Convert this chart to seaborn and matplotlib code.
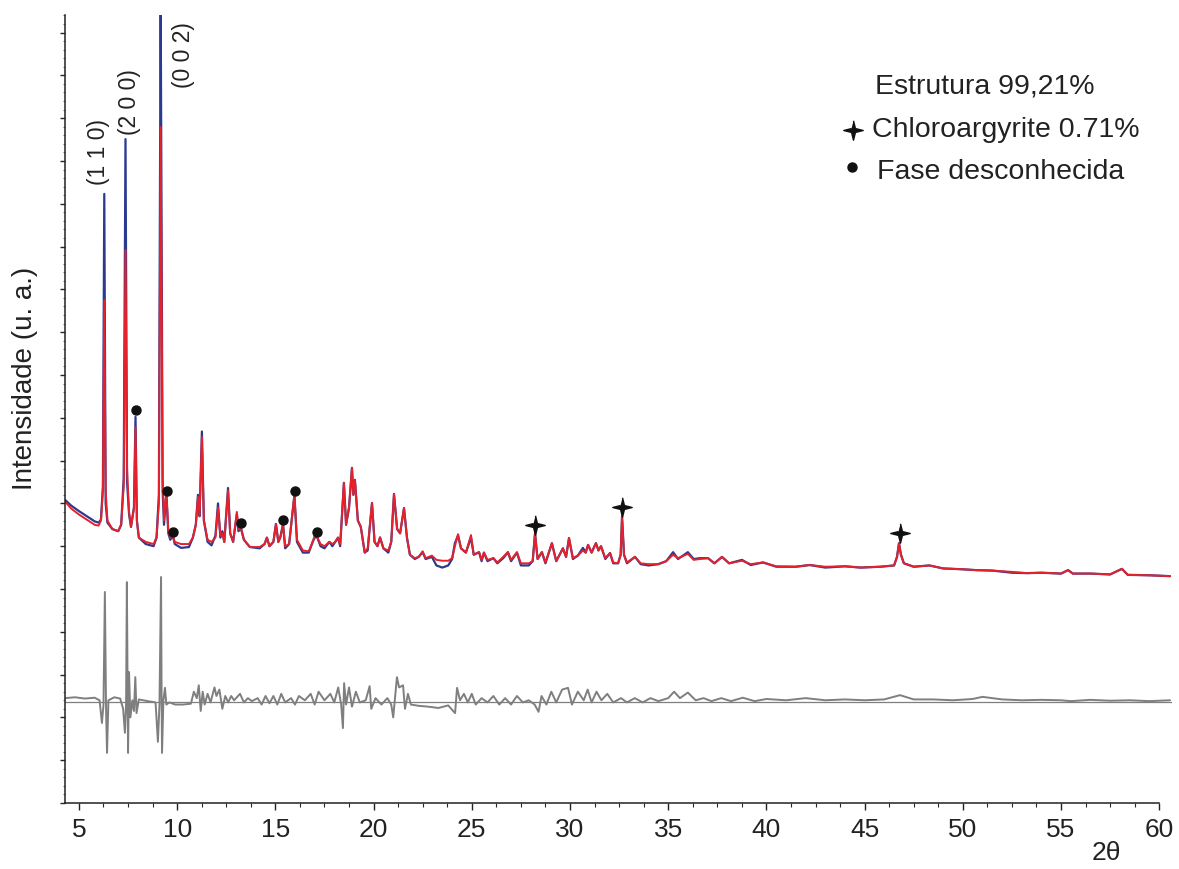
import numpy as np
import pandas as pd
import seaborn as sns
import matplotlib.pyplot as plt
from matplotlib.ticker import MultipleLocator


two_theta = [4.30, 4.60, 5.00, 5.40, 5.80, 6.00, 6.12, 6.22, 6.29, 6.36,
             6.45, 6.70, 7.00, 7.15, 7.28, 7.37, 7.45, 7.55, 7.65, 7.80,
             7.88, 7.95, 8.05, 8.40, 8.80, 8.95, 9.07, 9.16, 9.26, 9.33,
             9.45, 9.55, 9.65, 9.78, 9.88, 10.20, 10.60, 10.80, 10.95, 11.06,
             11.14, 11.26, 11.36, 11.55, 11.75, 11.95, 12.08, 12.20, 12.30, 12.40,
             12.59, 12.70, 12.85, 13.04, 13.12, 13.25, 13.40, 13.70, 14.20, 14.45,
             14.57, 14.70, 14.90, 15.03, 15.15, 15.25, 15.39, 15.50, 15.70, 15.97,
             16.10, 16.40, 16.70, 16.90, 17.00, 17.12, 17.30, 17.50, 17.75, 17.90,
             18.05, 18.19, 18.30, 18.49, 18.60, 18.75, 18.90, 18.97, 19.05, 19.20,
             19.35, 19.55, 19.70, 19.92, 20.05, 20.20, 20.33, 20.50, 20.75, 20.90,
             21.04, 21.20, 21.35, 21.55, 21.70, 21.85, 22.10, 22.30, 22.50, 22.65,
             22.97, 23.20, 23.50, 23.80, 24.00, 24.14, 24.30, 24.45, 24.70, 24.96,
             25.10, 25.37, 25.50, 25.62, 25.80, 26.10, 26.30, 26.60, 26.84, 27.00,
             27.30, 27.50, 27.90, 28.10, 28.22, 28.35, 28.57, 28.75, 29.08, 29.30,
             29.64, 29.80, 29.95, 30.15, 30.40, 30.66, 30.80, 30.92, 31.10, 31.32,
             31.45, 31.58, 31.80, 32.04, 32.20, 32.45, 32.58, 32.65, 32.75, 32.90,
             33.31, 33.60, 34.00, 34.50, 34.90, 35.25, 35.50, 36.00, 36.30, 36.60,
             37.03, 37.35, 37.74, 38.10, 38.76, 39.20, 39.83, 40.50, 41.50, 42.20,
             43.00, 44.00, 44.80, 45.80, 46.50, 46.65, 46.75, 46.85, 47.00, 47.50,
             48.30, 49.00, 50.00, 50.70, 51.50, 52.50, 53.27, 54.00, 55.00, 55.36,
             55.60, 56.50, 57.50, 58.10, 58.40, 59.50, 60.55]

y_obs = [7.08, 6.95, 6.82, 6.70, 6.58, 6.55, 6.62, 7.40, 14.23, 7.00,
         6.55, 6.40, 6.35, 6.50, 7.60, 15.51, 7.50, 6.75, 6.45, 6.90,
         9.02, 6.60, 6.20, 6.05, 6.00, 6.20, 7.20, 18.80, 7.30, 6.50,
         7.27, 6.30, 6.15, 6.25, 6.05, 5.96, 5.98, 6.20, 6.50, 7.20,
         6.70, 8.68, 6.60, 6.10, 6.02, 6.25, 7.00, 6.20, 6.35, 6.10,
         7.36, 6.30, 6.10, 6.75, 6.35, 6.42, 6.15, 5.98, 5.95, 6.05,
         6.20, 6.00, 6.10, 6.52, 6.10, 6.20, 6.52, 5.95, 6.05, 7.20,
         6.10, 5.85, 5.85, 6.10, 6.20, 6.22, 6.00, 5.95, 6.10, 6.00,
         6.10, 6.20, 6.00, 7.48, 6.50, 6.90, 7.83, 7.20, 7.55, 6.60,
         6.45, 5.85, 5.90, 7.01, 6.10, 6.00, 6.20, 5.95, 5.85, 6.10,
         7.22, 6.40, 6.30, 6.89, 6.20, 5.80, 5.70, 5.75, 5.86, 5.70,
         5.75, 5.55, 5.50, 5.55, 5.70, 6.07, 6.25, 5.95, 5.85, 6.20,
         5.80, 5.86, 5.65, 5.85, 5.65, 5.72, 5.60, 5.72, 5.86, 5.65,
         5.85, 5.55, 5.55, 5.65, 6.30, 5.70, 5.86, 5.60, 6.07, 5.65,
         5.95, 5.75, 6.19, 5.70, 5.78, 5.96, 5.85, 6.03, 5.85, 6.07,
         5.90, 6.00, 5.70, 5.84, 5.60, 5.60, 5.80, 6.70, 5.80, 5.60,
         5.75, 5.58, 5.55, 5.58, 5.65, 5.86, 5.70, 5.86, 5.70, 5.72,
         5.72, 5.60, 5.75, 5.60, 5.68, 5.56, 5.62, 5.52, 5.52, 5.56,
         5.50, 5.53, 5.50, 5.52, 5.55, 5.75, 6.07, 5.80, 5.60, 5.52,
         5.55, 5.48, 5.46, 5.44, 5.43, 5.38, 5.37, 5.38, 5.36, 5.44,
         5.36, 5.36, 5.34, 5.47, 5.33, 5.32, 5.30]

y_calc = [7.04, 6.88, 6.74, 6.62, 6.50, 6.48, 6.60, 7.30, 11.75, 7.30,
          6.60, 6.40, 6.35, 6.50, 7.40, 12.92, 7.80, 6.80, 6.45, 6.90,
          8.78, 6.60, 6.20, 6.10, 6.05, 6.20, 7.00, 15.79, 7.60, 6.60,
          7.27, 6.35, 6.20, 6.22, 6.10, 6.05, 6.05, 6.20, 6.50, 7.15,
          6.70, 8.55, 6.60, 6.15, 6.10, 6.20, 6.90, 6.25, 6.30, 6.10,
          7.30, 6.30, 6.10, 6.80, 6.40, 6.40, 6.15, 5.98, 5.98, 6.05,
          6.20, 6.00, 6.10, 6.52, 6.10, 6.20, 6.50, 6.00, 6.05, 7.20,
          6.15, 5.90, 5.88, 6.10, 6.25, 6.22, 6.05, 6.00, 6.10, 6.05,
          6.10, 6.20, 6.05, 7.48, 6.50, 6.90, 7.83, 7.20, 7.55, 6.60,
          6.45, 5.85, 5.95, 7.01, 6.10, 6.00, 6.21, 5.95, 5.90, 6.10,
          7.22, 6.40, 6.30, 6.89, 6.20, 5.80, 5.72, 5.75, 5.88, 5.72,
          5.78, 5.68, 5.66, 5.66, 5.72, 6.00, 6.28, 5.95, 5.85, 6.26,
          5.80, 5.86, 5.68, 5.85, 5.68, 5.72, 5.62, 5.75, 5.86, 5.68,
          5.86, 5.60, 5.60, 5.65, 6.30, 5.70, 5.86, 5.62, 6.07, 5.65,
          5.95, 5.75, 6.19, 5.72, 5.78, 5.90, 5.85, 6.03, 5.85, 6.07,
          5.90, 6.00, 5.72, 5.84, 5.62, 5.60, 5.80, 6.68, 5.80, 5.62,
          5.75, 5.60, 5.58, 5.58, 5.65, 5.80, 5.72, 5.82, 5.68, 5.70,
          5.72, 5.60, 5.75, 5.60, 5.66, 5.58, 5.62, 5.53, 5.52, 5.56,
          5.52, 5.53, 5.50, 5.52, 5.55, 5.75, 6.07, 5.80, 5.60, 5.52,
          5.55, 5.48, 5.46, 5.44, 5.43, 5.40, 5.37, 5.38, 5.36, 5.44,
          5.36, 5.36, 5.34, 5.47, 5.33, 5.32, 5.30]

# Curva diferença (cinza)
diff_theta = [4.30, 4.80, 5.30, 5.80, 6.05, 6.17, 6.25, 6.32, 6.38, 6.43,
              6.50, 6.80, 7.10, 7.25, 7.34, 7.40, 7.44, 7.48, 7.50, 7.55,
              7.62, 7.72, 7.80, 7.87, 7.93, 8.05, 8.50, 8.90, 9.02, 9.10,
              9.18, 9.21, 9.23, 9.30, 9.38, 9.45, 9.60, 9.90, 10.30, 10.70,
              10.85, 11.00, 11.10, 11.20, 11.30, 11.40, 11.55, 11.70, 11.90, 12.00,
              12.15, 12.30, 12.45, 12.60, 12.75, 12.90, 13.20, 13.40, 13.60, 13.80,
              14.10, 14.30, 14.50, 14.70, 14.90, 15.10, 15.30, 15.50, 15.80, 16.00,
              16.20, 16.50, 16.80, 17.00, 17.20, 17.50, 17.80, 18.00, 18.20, 18.35,
              18.44, 18.50, 18.60, 18.75, 18.90, 19.10, 19.30, 19.60, 19.80, 19.88,
              20.10, 20.40, 20.70, 20.90, 21.00, 21.19, 21.30, 21.50, 21.60, 21.75,
              21.90, 22.30, 22.80, 23.30, 23.80, 24.15, 24.25, 24.40, 24.60, 24.80,
              25.00, 25.20, 25.50, 25.80, 26.10, 26.40, 26.70, 27.00, 27.30, 27.60,
              27.90, 28.20, 28.40, 28.55, 28.80, 29.05, 29.30, 29.60, 29.90, 30.10,
              30.40, 30.70, 30.90, 31.10, 31.35, 31.60, 31.90, 32.20, 32.60, 32.90,
              33.30, 33.70, 34.10, 34.50, 35.00, 35.30, 35.60, 36.00, 36.40, 36.80,
              37.20, 37.70, 38.20, 38.80, 39.40, 40.00, 41.00, 42.00, 43.00, 44.00,
              45.00, 46.00, 46.80, 47.50, 48.50, 49.50, 50.50, 51.00, 52.00, 53.00,
              54.00, 55.00, 55.50, 56.50, 57.50, 58.50, 59.50, 60.55]

y_diff = [2.45, 2.47, 2.44, 2.46, 2.40, 1.87, 2.30, 4.93, 2.20, 1.17,
          2.40, 2.47, 2.44, 2.20, 1.64, 2.30, 5.16, 2.30, 1.17, 3.06,
          2.00, 2.40, 2.15, 2.94, 2.10, 2.42, 2.38, 2.35, 1.43, 2.30,
          5.28, 2.30, 1.17, 2.40, 2.69, 2.30, 2.35, 2.30, 2.30, 2.32,
          2.60, 2.45, 2.75, 2.15, 2.60, 2.30, 2.55, 2.35, 2.70, 2.50,
          2.65, 2.20, 2.50, 2.35, 2.50, 2.40, 2.55, 2.35, 2.45, 2.38,
          2.45, 2.30, 2.50, 2.33, 2.50, 2.30, 2.55, 2.35, 2.45, 2.30,
          2.50, 2.40, 2.55, 2.30, 2.60, 2.40, 2.55, 2.35, 2.70, 2.30,
          1.75, 2.80, 2.30, 2.70, 2.25, 2.60, 2.35, 2.40, 2.73, 2.20,
          2.45, 2.30, 2.45, 2.30, 2.00, 2.94, 2.70, 2.75, 2.20, 2.55,
          2.30, 2.27, 2.25, 2.22, 2.28, 2.10, 2.69, 2.40, 2.55, 2.35,
          2.55, 2.30, 2.45, 2.35, 2.50, 2.30, 2.45, 2.30, 2.50, 2.35,
          2.40, 2.30, 2.13, 2.50, 2.30, 2.60, 2.35, 2.65, 2.69, 2.30,
          2.60, 2.40, 2.65, 2.35, 2.60, 2.40, 2.55, 2.35, 2.45, 2.35,
          2.45, 2.35, 2.45, 2.38, 2.45, 2.60, 2.45, 2.58, 2.40, 2.45,
          2.38, 2.45, 2.38, 2.46, 2.38, 2.43, 2.40, 2.45, 2.40, 2.42,
          2.40, 2.42, 2.52, 2.42, 2.42, 2.40, 2.43, 2.48, 2.42, 2.40,
          2.41, 2.40, 2.38, 2.41, 2.39, 2.40, 2.38, 2.40]
diff_zero = 2.37

# Marcadores das fases
dot_theta = [7.90, 9.48, 9.79, 13.25, 15.39, 16.00, 17.12]
dot_y = [9.18, 7.29, 6.33, 6.54, 6.61, 7.29, 6.33]
star_theta = [28.22, 32.65, 46.80]
star_y = [6.50, 6.92, 6.31]

hkl_labels = ["(1 1 0)", "(2 0 0)", "(0 0 2)"]
legend_labels = ["Estrutura 99,21%", "Chloroargyrite 0.71%", "Fase desconhecida"]

assert len(two_theta) == len(y_obs) == len(y_calc)
assert len(diff_theta) == len(y_diff)

pattern = pd.DataFrame({"two_theta": two_theta, "obs": y_obs, "calc": y_calc})
diff = pd.DataFrame({"two_theta": diff_theta, "diff": y_diff})

BLUE = "#2b3a8f"
RED = "#e5222b"
GRAY = "#7f7f7f"
star = [(0, 1), (0.2, 0.2), (1, 0), (0.2, -0.2), (0, -1), (-0.2, -0.2), (-1, 0), (-0.2, 0.2)]

sns.set_style("ticks")
plt.rcParams["font.family"] = ["Liberation Sans", "DejaVu Sans"]

fig = plt.figure(figsize=(11.79, 8.69), dpi=100)
ax = fig.add_axes([65 / 1179, 66 / 869, 1107 / 1179, 788 / 869])

sns.lineplot(data=pattern, x="two_theta", y="obs", ax=ax, color=BLUE,
             linewidth=1.6, estimator=None, sort=False)
sns.lineplot(data=pattern, x="two_theta", y="calc", ax=ax, color=RED,
             linewidth=1.4, estimator=None, sort=False)
ax.axhline(diff_zero, color=GRAY, linewidth=0.9)
sns.lineplot(data=diff, x="two_theta", y="diff", ax=ax, color=GRAY,
             linewidth=1.4, estimator=None, sort=False)

ax.plot(dot_theta, dot_y, "o", color="#111111", markersize=6.5, linestyle="none")
ax.plot(star_theta, star_y, marker=star, color="#111111", markersize=14, linestyle="none")

for lab, (tx, ty) in zip(hkl_labels, [(6.02, 15.21), (7.55, 16.38), (10.30, 17.48)]):
    ax.text(tx, ty, lab, rotation=90, ha="center", va="center", fontsize=16.5, color="#222222")

# legenda manual
ax.text(0.7317, 0.901, legend_labels[0], transform=ax.transAxes, fontsize=20.5,
        ha="left", va="baseline", color="#222222")
ax.text(0.729, 0.845, legend_labels[1], transform=ax.transAxes, fontsize=20.5,
        ha="left", va="baseline", color="#222222")
ax.text(0.7335, 0.792, legend_labels[2], transform=ax.transAxes, fontsize=20.5,
        ha="left", va="baseline", color="#222222")
ax.plot([0.7118], [0.854], marker=star, color="#111111", markersize=14,
        transform=ax.transAxes, clip_on=False)
ax.plot([0.711], [0.807], "o", color="#111111", markersize=6.5,
        transform=ax.transAxes, clip_on=False)

ax.set_xlim(4.29, 60.65)
ax.set_ylim(0, 18.41)
ax.set_xlabel("")
ax.set_ylabel("")
ax.xaxis.set_major_locator(MultipleLocator(5))
ax.xaxis.set_minor_locator(MultipleLocator(1.25))
ax.yaxis.set_major_locator(MultipleLocator(1))
ax.yaxis.set_minor_locator(MultipleLocator(0.2))
ax.tick_params(axis="x", which="major", length=5, width=1, labelsize=19, pad=6, colors="#222222")
ax.tick_params(axis="x", which="minor", length=3, width=0.8)
ax.tick_params(axis="y", which="major", length=3.5, width=1, labelleft=False)
ax.tick_params(axis="y", which="minor", length=1.5, width=0.5)

sns.despine(ax=ax)
ax.spines["bottom"].set_bounds(4.29, 60)
for s in ["left", "bottom"]:
    ax.spines[s].set_linewidth(1.1)
    ax.spines[s].set_color("#222222")

ax.text(0.941, -0.0635, "2θ", transform=ax.transAxes, ha="center", va="center",
        fontsize=19, color="#222222")
fig.text(25 / 1179, 1 - 378 / 869, "Intensidade (u. a.)", rotation=90,
         ha="center", va="center", fontsize=20, color="#222222")

fig.savefig("out.png", dpi=100)
